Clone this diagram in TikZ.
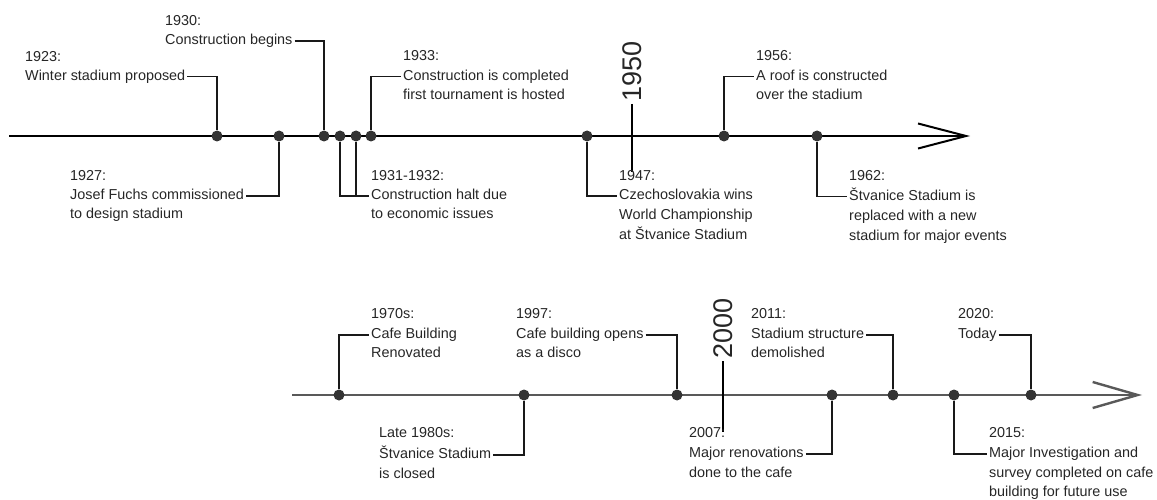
\documentclass[tikz,border=0pt]{standalone}
\usepackage{fontspec}
\setmainfont{Liberation Sans}
\usetikzlibrary{arrows.meta}
\begin{document}
\begin{tikzpicture}[x=1pt,y=-1pt,
  txt/.style={anchor=west, inner xsep=2pt, inner ysep=0pt, text height=10.4pt, text depth=3pt,
    font=\fontsize{14.4}{17}\selectfont, text=black!85},
  dot/.style={circle, fill=black!80, inner sep=0pt, minimum size=11pt},
  conn/.style={line width=1.8pt, black!90},
  axisA/.style={line width=2pt, black, -{Straight Barb[length=48pt,width=25pt]}},
  axisB/.style={line width=2.4pt, black!65, -{Straight Barb[length=45pt,width=26pt]}},
  big/.style={rotate=90, anchor=west, inner xsep=2pt, inner ysep=0pt,
    font=\fontsize{27}{30}\selectfont, text=black!85},
  tick/.style={line width=1.8pt, black}
]
\useasboundingbox (0,0) rectangle (1157,500);

% ---------------- top timeline ----------------
\coordinate (a1s) at (9,136);
\coordinate (a1e) at (970,136);
\draw[axisA] (a1s) -- (a1e);

\node[big] (n1950) at (632,104) {1950};
\coordinate (m1950) at (632,172);
\draw[tick] (n1950.west) -- (m1950);

\node[dot] (d1923) at (217,136) {};
\node[dot] (d1927) at (279,136) {};
\node[dot] (d1930) at (324,136) {};
\node[dot] (d1931) at (340,136) {};
\node[dot] (d1932) at (356,136) {};
\node[dot] (d1933) at (371,136) {};
\node[dot] (d1947) at (587,136) {};
\node[dot] (d1956) at (724,136) {};
\node[dot] (d1962) at (817,136) {};

\node[txt] (y1923) at (23,57.5) {1923:};
\node[txt] (t1923) at (23,76.5) {Winter stadium proposed};
\draw[conn] (t1923.east) -| (d1923);

\node[txt] (y1930) at (163,22) {1930:};
\node[txt] (t1930) at (163,41) {Construction begins};
\draw[conn] (t1930.east) -| (d1930);

\node[txt] (y1927) at (68,177) {1927:};
\node[txt] (t1927) at (68,196) {Josef Fuchs commissioned};
\node[txt] (u1927) at (68,215) {to design stadium};
\draw[conn] (t1927.east) -| (d1927);

\node[txt] (y1931) at (369,177) {1931-1932:};
\node[txt] (t1931) at (369,196) {Construction halt due};
\node[txt] (u1931) at (369,215) {to economic issues};
\draw[conn] (d1931) |- (t1931.west);
\draw[conn] (d1932) |- (t1931.west);

\node[txt] (y1933) at (401,57) {1933:};
\node[txt] (t1933) at (401,76.5) {Construction is completed};
\node[txt] (u1933) at (401,96) {first tournament is hosted};
\draw[conn] (d1933) |- (t1933.west);

\node[txt] (y1947) at (617,177) {1947:};
\node[txt] (t1947) at (617,196) {Czechoslovakia wins};
\node[txt] (u1947) at (617,215.5) {World Championship};
\node[txt] (v1947) at (617,235.5) {at Štvanice Stadium};
\draw[conn] (d1947) |- (t1947.west);

\node[txt] (y1956) at (754,57) {1956:};
\node[txt] (t1956) at (754,76.5) {A roof is constructed};
\node[txt] (u1956) at (754,96) {over the stadium};
\draw[conn] (d1956) |- (t1956.west);

\node[txt] (y1962) at (847,177) {1962:};
\node[txt] (t1962) at (847,196.5) {Štvanice Stadium is};
\node[txt] (u1962) at (847,216.5) {replaced with a new};
\node[txt] (v1962) at (847,236.5) {stadium for major events};
\draw[conn] (d1962) |- (t1962.west);

% ---------------- bottom timeline ----------------
\coordinate (a2s) at (292,395);
\coordinate (a2e) at (1142,395);
\draw[axisB] (a2s) -- (a2e);

\node[big] (n2000) at (723,361) {2000};
\coordinate (m2000) at (723,432);
\draw[tick] (n2000.west) -- (m2000);

\node[dot] (d1970) at (339,395) {};
\node[dot] (d1980) at (524,395) {};
\node[dot] (d1997) at (677,395) {};
\node[dot] (d2007) at (832,395) {};
\node[dot] (d2011) at (893,395) {};
\node[dot] (d2015) at (954,395) {};
\node[dot] (d2020) at (1031,395) {};

\node[txt] (y1970) at (369,315) {1970s:};
\node[txt] (t1970) at (369,335) {Cafe Building};
\node[txt] (u1970) at (369,353.5) {Renovated};
\draw[conn] (d1970) |- (t1970.west);

\node[txt] (y1980) at (377,434) {Late 1980s:};
\node[txt] (t1980) at (377,455) {Štvanice Stadium};
\node[txt] (u1980) at (377,474.5) {is closed};
\draw[conn] (t1980.east) -| (d1980);

\node[txt] (y1997) at (514,315) {1997:};
\node[txt] (t1997) at (514,335) {Cafe building opens};
\node[txt] (u1997) at (514,353.5) {as a disco};
\draw[conn] (t1997.east) -| (d1997);

\node[txt] (y2007) at (687,434) {2007:};
\node[txt] (t2007) at (687,454) {Major renovations};
\node[txt] (u2007) at (687,474) {done to the cafe};
\draw[conn] (t2007.east) -| (d2007);

\node[txt] (y2011) at (749,315) {2011:};
\node[txt] (t2011) at (749,335) {Stadium structure};
\node[txt] (u2011) at (749,353.5) {demolished};
\draw[conn] (t2011.east) -| (d2011);

\node[txt] (y2015) at (987,434) {2015:};
\node[txt] (t2015) at (987,454) {Major Investigation and};
\node[txt] (u2015) at (987,474) {survey completed on cafe};
\node[txt] (v2015) at (987,493) {building for future use};
\draw[conn] (d2015) |- (t2015.west);

\node[txt] (y2020) at (956,315) {2020:};
\node[txt] (t2020) at (956,335) {Today};
\draw[conn] (t2020.east) -| (d2020);
\end{tikzpicture}
\end{document}
